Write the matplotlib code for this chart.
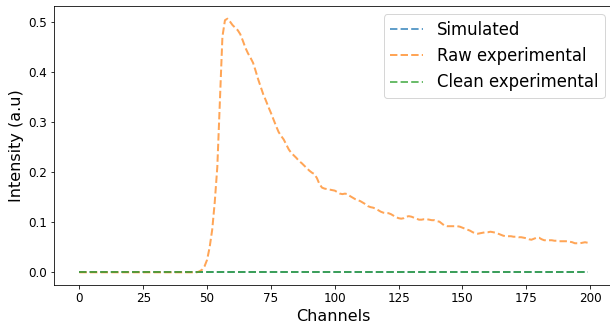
import numpy as np
import matplotlib
matplotlib.use("Agg")
import matplotlib.pyplot as plt

# canali 0..199
channels = np.arange(200)

raw_experimental = [
    0.000, 0.000, 0.000, 0.000, 0.000, 0.000, 0.000, 0.000, 0.000, 0.000,
    0.000, 0.000, 0.000, 0.000, 0.000, 0.000, 0.000, 0.000, 0.000, 0.000,
    0.000, 0.000, 0.000, 0.000, 0.000, 0.000, 0.000, 0.000, 0.000, 0.000,
    0.000, 0.000, 0.000, 0.000, 0.000, 0.000, 0.000, 0.000, 0.000, 0.000,
    0.000, 0.000, 0.000, 0.000, 0.000, 0.000, 0.000, 0.002, 0.005, 0.012,
    0.025, 0.050, 0.085, 0.140, 0.210, 0.340, 0.470, 0.503, 0.506, 0.500,
    0.493, 0.488, 0.483, 0.475, 0.462, 0.448, 0.437, 0.428, 0.418, 0.402,
    0.385, 0.370, 0.355, 0.343, 0.330, 0.318, 0.305, 0.292, 0.280, 0.272,
    0.265, 0.255, 0.245, 0.238, 0.233, 0.228, 0.222, 0.218, 0.213, 0.208,
    0.203, 0.199, 0.196, 0.188, 0.176, 0.169, 0.167, 0.166, 0.165, 0.164,
    0.163, 0.160, 0.157, 0.156, 0.157, 0.156, 0.152, 0.149, 0.146, 0.144,
    0.142, 0.139, 0.136, 0.132, 0.130, 0.129, 0.127, 0.124, 0.121, 0.119,
    0.118, 0.118, 0.116, 0.113, 0.110, 0.108, 0.107, 0.108, 0.111, 0.112,
    0.111, 0.109, 0.107, 0.105, 0.105, 0.106, 0.106, 0.105, 0.104, 0.104,
    0.102, 0.101, 0.097, 0.093, 0.092, 0.092, 0.092, 0.092, 0.092, 0.091,
    0.089, 0.087, 0.085, 0.083, 0.080, 0.078, 0.077, 0.078, 0.079, 0.080,
    0.080, 0.081, 0.080, 0.079, 0.077, 0.075, 0.073, 0.072, 0.072, 0.072,
    0.071, 0.071, 0.070, 0.070, 0.069, 0.068, 0.066, 0.065, 0.067, 0.069,
    0.069, 0.066, 0.064, 0.064, 0.064, 0.064, 0.063, 0.063, 0.062, 0.062,
    0.062, 0.062, 0.061, 0.060, 0.058, 0.058, 0.058, 0.059, 0.060, 0.059,
]
simulated = [0.0] * 200
clean_experimental = [0.0] * 200

fig = plt.figure(figsize=(610 / 72, 327 / 72), dpi=72)
ax = fig.add_axes([54 / 610, 42 / 327, 559 / 610, 279 / 327])

ax.plot(channels, simulated, "--", lw=2, alpha=0.7, label="Simulated")
ax.plot(channels, raw_experimental, "--", lw=2, alpha=0.7, label="Raw experimental")
ax.plot(channels, clean_experimental, "--", lw=2, alpha=0.7, label="Clean experimental")

ax.set_xlabel("Channels", fontsize=16)
ax.set_ylabel("Intensity (a.u)", fontsize=16)
ax.tick_params(labelsize=12)
ax.legend(loc="upper right", fontsize=16.5)

fig.savefig("out.png", dpi=72)
